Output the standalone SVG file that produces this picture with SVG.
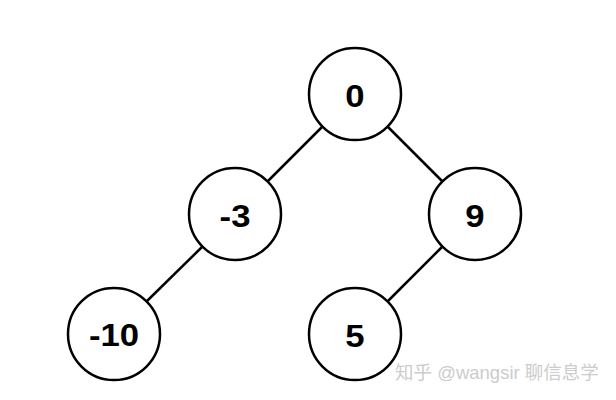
<svg xmlns="http://www.w3.org/2000/svg" width="616" height="400" viewBox="0 0 616 400">
<style>
.n circle{fill:#fff;stroke:#000;stroke-width:2.5}
.n text{font-family:"Liberation Sans",Arial,sans-serif;font-weight:bold;font-size:31px;text-anchor:middle;fill:#000}
.e line{stroke:#000;stroke-width:2.5}
.wm{font-family:"Liberation Sans","Noto Sans CJK SC",sans-serif;font-size:18.5px;fill:#cccccc}
</style>
<rect width="616" height="400" fill="#fff"/>
<g id="edges" class="e">
<line x1="322.5" y1="126.5" x2="267.5" y2="181.5"/>
<line x1="387.5" y1="126.5" x2="442.5" y2="181.5"/>
<line x1="202.5" y1="246.5" x2="146.5" y2="301.5"/>
<line x1="442.5" y1="246.5" x2="387.5" y2="301.5"/>
</g>
<g id="n0" class="n"><circle cx="355" cy="94" r="46"/><text transform="translate(355,107) scale(1.12,1)">0</text></g>
<g id="nm3" class="n"><circle cx="235" cy="214" r="46"/><text transform="translate(235,227) scale(1.12,1)">-3</text></g>
<g id="n9" class="n"><circle cx="475" cy="214" r="46"/><text transform="translate(475,227) scale(1.12,1)">9</text></g>
<g id="nm10" class="n"><circle cx="114" cy="334" r="46"/><text transform="translate(114,346) scale(1.12,1)">-10</text></g>
<g id="n5" class="n"><circle cx="355" cy="334" r="46"/><text transform="translate(355,347) scale(1.12,1)">5</text></g>
<text class="wm" x="395" y="379">知乎 @wangsir 聊信息学</text>
</svg>
